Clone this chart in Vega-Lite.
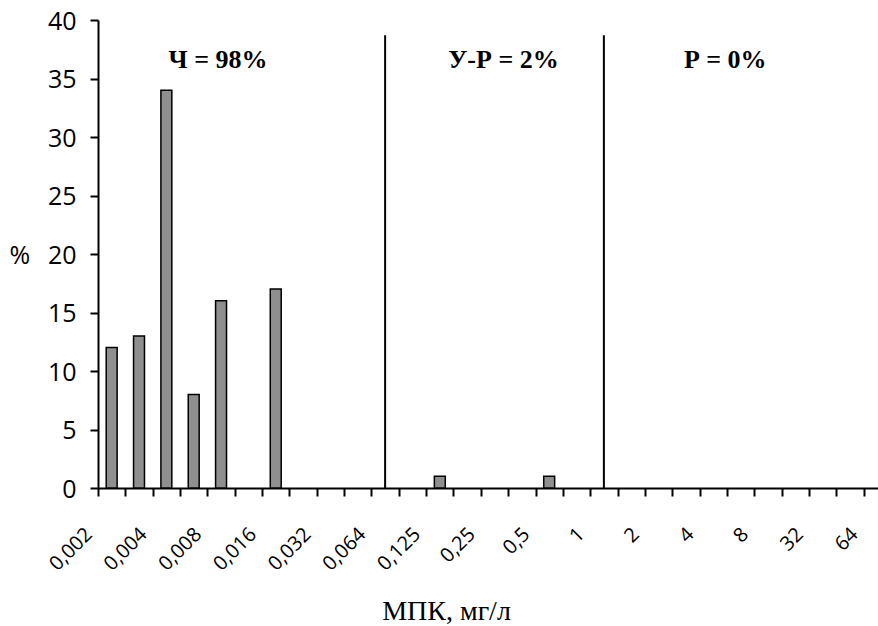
{
  "$schema": "https://vega.github.io/schema/vega-lite/v6.json",
  "width": 780,
  "height": 468,
  "autosize": {"type": "none"},
  "padding": {"left": 98, "top": 20, "right": 0, "bottom": 138},
  "background": "white",
  "config": {
    "view": {"stroke": null},
    "axis": {
      "domainColor": "black",
      "domainWidth": 2,
      "tickColor": "black",
      "tickWidth": 2,
      "tickSize": 8,
      "labelColor": "black",
      "titleColor": "black",
      "grid": false
    }
  },
  "datasets": {
    "bars": [
      {"mic": "0,002", "pct": 12},
      {"mic": "0,003", "pct": 13},
      {"mic": "0,004", "pct": 34},
      {"mic": "0,006", "pct": 8},
      {"mic": "0,008", "pct": 16},
      {"mic": "0,016", "pct": 17},
      {"mic": "0,125", "pct": 1},
      {"mic": "0,5", "pct": 1}
    ],
    "rules": [
      {"mic": "0,064", "y0": 0, "y1": 38.7},
      {"mic": "1", "y0": 0, "y1": 38.7}
    ],
    "notes": [
      {"mic": "0,008", "y": 35.9, "label": "Ч = 98%"},
      {"mic": "0,25", "y": 35.9, "label": "У-Р = 2%"},
      {"mic": "4", "y": 35.9, "label": "Р = 0%"}
    ]
  },
  "layer": [
    {
      "data": {"name": "bars"},
      "mark": {"type": "bar", "width": {"band": 0.4}, "fill": "#8f8f8f", "stroke": "black", "strokeWidth": 1.5},
      "encoding": {
        "x": {
          "field": "mic",
          "type": "nominal",
          "scale": {
            "type": "band",
            "domain": ["0,002","0,003","0,004","0,006","0,008","0,012","0,016","0,023","0,032","0,047","0,064","0,094","0,125","0,19","0,25","0,38","0,5","0,75","1","1,5","2","3","4","6","8","16","32","48","64"],
            "range": [0, 793],
            "paddingInner": 0,
            "paddingOuter": 0
          },
          "axis": {
            "title": "МПК, мг/л",
            "titleFont": "Liberation Serif",
            "titleFontSize": 28,
            "titleFontWeight": "normal",
            "titleX": 348,
            "titleY": 131,
            "titleAlign": "center",
            "titleBaseline": "alphabetic",
            "tickBand": "extent",
            "labelAngle": -45,
            "labelAlign": "right",
            "labelBaseline": "middle",
            "labelFont": "Open Sans",
            "labelFontSize": 20,
            "labelPadding": 35,
            "labelOffset": -23,
            "labelOverlap": false,
            "labelBound": false,
            "labelFlush": false,
            "labelExpr": "indexof(['0,002','0,004','0,008','0,016','0,032','0,064','0,125','0,25','0,5','1','2','4','8','32','64'], datum.value) >= 0 ? datum.value : ''"
          }
        },
        "y": {
          "field": "pct",
          "type": "quantitative",
          "scale": {"domain": [0, 40], "nice": false, "zero": true},
          "axis": {
            "title": "%",
            "titleAngle": 0,
            "titleFont": "Open Sans",
            "titleFontSize": 25,
            "titleFontWeight": "normal",
            "titleX": -89,
            "titleY": 235,
            "titleAlign": "left",
            "titleBaseline": "middle",
            "values": [0, 5, 10, 15, 20, 25, 30, 35, 40],
            "labelFont": "Open Sans",
            "labelFontSize": 25,
            "labelPadding": 14,
            "labelOffset": 1
          }
        }
      }
    },
    {
      "data": {"name": "rules"},
      "mark": {"type": "rule", "color": "black", "strokeWidth": 2},
      "encoding": {
        "x": {"field": "mic", "type": "nominal"},
        "y": {"field": "y0", "type": "quantitative"},
        "y2": {"field": "y1"}
      }
    },
    {
      "data": {"name": "notes"},
      "transform": [{"filter": "datum.mic == '0,008'"}],
      "mark": {"type": "text", "font": "Liberation Serif", "fontWeight": "bold", "fontSize": 26, "baseline": "alphabetic", "align": "center", "dx": -3, "color": "black"},
      "encoding": {
        "x": {"field": "mic", "type": "nominal"},
        "y": {"field": "y", "type": "quantitative"},
        "text": {"field": "label"}
      }
    },
    {
      "data": {"name": "notes"},
      "transform": [{"filter": "datum.mic == '0,25'"}],
      "mark": {"type": "text", "font": "Liberation Serif", "fontWeight": "bold", "fontSize": 26, "baseline": "alphabetic", "align": "center", "dx": 9, "color": "black"},
      "encoding": {
        "x": {"field": "mic", "type": "nominal"},
        "y": {"field": "y", "type": "quantitative"},
        "text": {"field": "label"}
      }
    },
    {
      "data": {"name": "notes"},
      "transform": [{"filter": "datum.mic == '4'"}],
      "mark": {"type": "text", "font": "Liberation Serif", "fontWeight": "bold", "fontSize": 26, "baseline": "alphabetic", "align": "center", "dx": 12, "color": "black"},
      "encoding": {
        "x": {"field": "mic", "type": "nominal"},
        "y": {"field": "y", "type": "quantitative"},
        "text": {"field": "label"}
      }
    }
  ]
}
